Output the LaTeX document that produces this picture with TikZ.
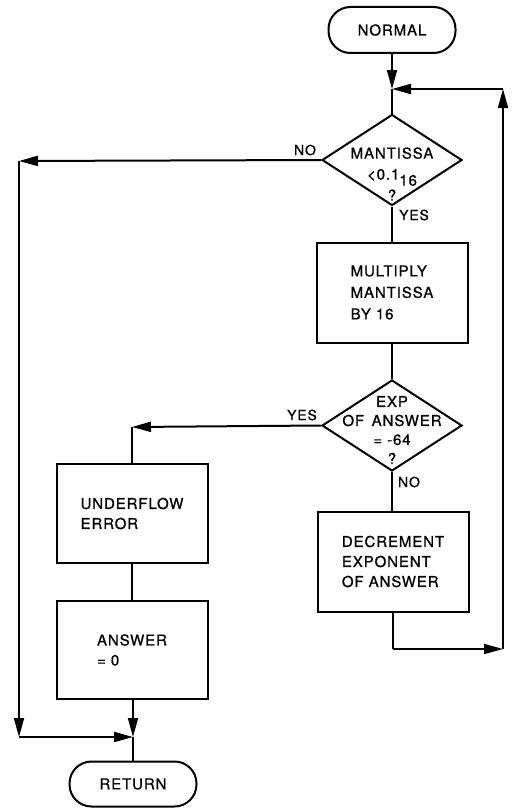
\documentclass[tikz,border=0pt]{standalone}
\usepackage{fontspec}
\setmainfont{TeX Gyre Heros}[LetterSpace=6,FakeBold=0.8]
\usetikzlibrary{shapes.geometric,arrows.meta}
\begin{document}
\begin{tikzpicture}[x=1pt,y=-1pt,
  line width=2pt,
  every node/.style={font=\fontsize{15}{20}\selectfont, inner sep=0pt},
  term/.style={draw, rectangle, rounded corners=22pt, minimum width=127pt, minimum height=46pt},
  procbox/.style={draw, rectangle, minimum width=151pt, minimum height=100pt, align=left},
  decis/.style={draw, diamond, minimum width=140pt, minimum height=91pt},
  dtext/.style={align=center},
  lbl/.style={font=\fontsize{14}{15}\selectfont},
  arr/.style={-{Triangle[length=19pt,width=10pt]}},
]
\useasboundingbox (0,0) rectangle (515,808);
% nodes
\node[term] (normal) at (392,30) {NORMAL};
\coordinate (merge) at (392,89);
\node[decis] (d1) at (392,160) {};
\node[dtext, font=\fontsize{15}{21}\selectfont] (d1t) at (392,174) {MANTISSA\\<0.1\raisebox{-6pt}{16}\\?};
\node[procbox, font=\fontsize{15}{21.5}\selectfont] (mult) at (392,292.5) {MULTIPLY\\MANTISSA\\BY 16};
\node[decis] (d2) at (392,425.5) {};
\node[dtext, font=\fontsize{15}{19}\selectfont] (d2t) at (392,430) {EXP\\OF\enspace ANSWER\\= -64\\?};
\node[procbox, font=\fontsize{15}{20}\selectfont] (dec) at (393,561.5) {DECREMENT\\EXPONENT\\OF ANSWER};
\node[procbox, minimum height=99pt] (uf) at (132,513.5) {UNDERFLOW\\ERROR};
\node[procbox, minimum height=98pt] (ans) at (132,650) {ANSWER\\= 0\hphantom{SWER}};
\node[term, minimum height=45pt] (ret) at (133,784) {RETURN};
% labels
\node[lbl] (no1) at (305,150) {NO};
\node[lbl] (yes1) at (414,215) {YES};
\node[lbl] (yes2) at (302,415) {YES};
\node[lbl] (no2) at (409,482) {NO};
% corner coordinates
\coordinate (cn1) at (19,161);
\coordinate (cn2) at (19,737);
\coordinate (mb) at (133,737);
\coordinate (cy) at (132,427);
\coordinate (cd1) at (393,649);
\coordinate (cd2) at (503,649);
\coordinate (cd3) at (503,89);
% connectors
\draw[arr] (normal.south) -- (merge);
\draw (merge) -- (d1.north);
\draw[arr] (d1.west) -- (cn1);
\draw[arr] (cn1) -- (cn2);
\draw[arr] (cn2) -- (mb);
\draw (d1.south) -- (mult.north);
\draw (mult.south) -- (d2.north);
\draw[arr] (d2.west) -- (cy);
\draw (cy) -- (uf.north -| cy);
\draw (uf.south) -- (ans.north);
\draw[arr] (ans.south -| mb) -- (mb);
\draw (mb) -- (ret.north -| mb);
\draw (d2.south) -- (dec.north -| d2.south);
\draw (dec.south -| cd1) -- (cd1);
\draw[arr] (cd1) -- (cd2);
\draw[arr] (cd2) -- (cd3);
\draw[arr] (cd3) -- (merge);
\end{tikzpicture}
\end{document}
